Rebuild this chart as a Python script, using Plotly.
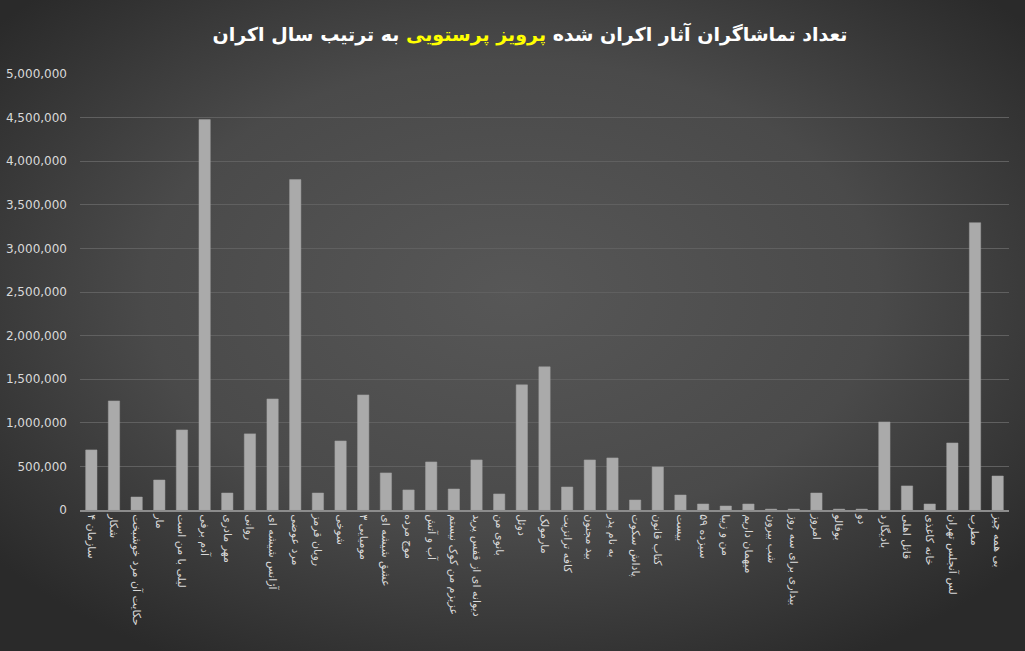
import base64
import plotly.graph_objects as go

films = [
    "سازمان ۴", "شکار", "حکایت آن مرد خوشبخت", "مار", "لیلی با من است",
    "آدم برفی", "مهر مادری", "روانی", "آژانس شیشه ای", "مرد عوضی",
    "روبان قرمز", "شوخی", "مومیایی ۳", "عشق شیشه ای", "موج مرده",
    "آب و آتش", "عزیزم من کوک نیستم", "دیوانه ای از قفس پرید", "بانوی من", "دوئل",
    "مارمولک", "کافه ترانزیت", "بید مجنون", "به نام پدر", "پاداش سکوت",
    "کتاب قانون", "بیست", "سیزده ۵۹", "من و زیبا", "میهمان داریم",
    "شب بیرون", "بیداری برای سه روز", "امروز", "بوفالو", "دو",
    "بادیگارد", "قاتل اهلی", "خانه کاغذی", "لس آنجلس تهران", "مطرب",
    "بی همه چیز",
]
viewers = [
    689000, 1251000, 149000, 344000, 918000,
    4477000, 195000, 873000, 1274000, 3789000,
    195000, 792000, 1320000, 425000, 230000,
    551000, 241000, 574000, 184000, 1435000,
    1642000, 264000, 574000, 597000, 115000,
    494000, 172000, 69000, 46000, 69000,
    10000, 10000, 195000, 10000, 10000,
    1010000, 276000, 69000, 769000, 3295000,
    390000,
]
y_ticks = [0, 500000, 1000000, 1500000, 2000000, 2500000, 3000000,
           3500000, 4000000, 4500000, 5000000]

title_main_1 = "تعداد تماشاگران آثار اکران شده "
title_name = "پرویز پرستویی"
title_main_2 = " به ترتیب سال اکران"

svg = (
    '<svg xmlns="http://www.w3.org/2000/svg" width="1025" height="651">'
    '<defs><radialGradient id="g" cx="50%" cy="45%" r="65%">'
    '<stop offset="0%" stop-color="#575757"/>'
    '<stop offset="55%" stop-color="#4a4a4a"/>'
    '<stop offset="100%" stop-color="#2a2a2a"/>'
    '</radialGradient></defs>'
    '<rect width="1025" height="651" fill="url(#g)"/></svg>'
)
bg_src = "data:image/svg+xml;base64," + base64.b64encode(svg.encode()).decode()

L, R, T, B = 80, 16, 74, 141
PW, PH = 1025 - L - R, 651 - T - B

fig = go.Figure()
fig.add_trace(go.Bar(
    x=films, y=viewers,
    marker=dict(color="#aaaaaa", line=dict(color="#a0a0a0", width=0.5)),
    hovertemplate="%{x}: %{y:,}<extra></extra>",
))

fig.update_layout(
    width=1025, height=651,
    paper_bgcolor="#3a3a3a",
    plot_bgcolor="rgba(0,0,0,0)",
    margin=dict(l=L, r=R, t=T, b=B, autoexpand=False),
    bargap=0.5,
    showlegend=False,
    font=dict(family="DejaVu Sans, Tahoma, sans-serif", color="#d9d9d9"),
    title=dict(
        text=(title_main_1 + "<span style='color:#ffff00'>" + title_name + "</span>"
              + title_main_2),
        x=0.517, xanchor="center", y=0.947, yanchor="middle",
        font=dict(family="DejaVu Sans, sans-serif", size=19, color="#ffffff",
                  weight="bold"),
    ),
    images=[dict(source=bg_src, xref="paper", yref="paper",
                 x=-L / PW, y=1 + T / PH, sizex=1025 / PW, sizey=651 / PH,
                 xanchor="left", yanchor="top",
                 sizing="stretch", layer="below")],
    xaxis=dict(
        tickangle=90, tickfont=dict(size=11, color="#d9d9d9"),
        showgrid=False, showline=True, linecolor="#8c8c8c", linewidth=2,
        ticks="", zeroline=False, automargin=False,
    ),
    yaxis=dict(
        range=[0, 5000000], tickvals=y_ticks, tickformat=",d",
        tickfont=dict(size=12, color="#d9d9d9"),
        showgrid=True, gridcolor="#606060", gridwidth=1,
        zeroline=False, showline=False, ticks="",
        ticklabelstandoff=12, automargin=False,
    ),
)

fig.write_html("out.html")
